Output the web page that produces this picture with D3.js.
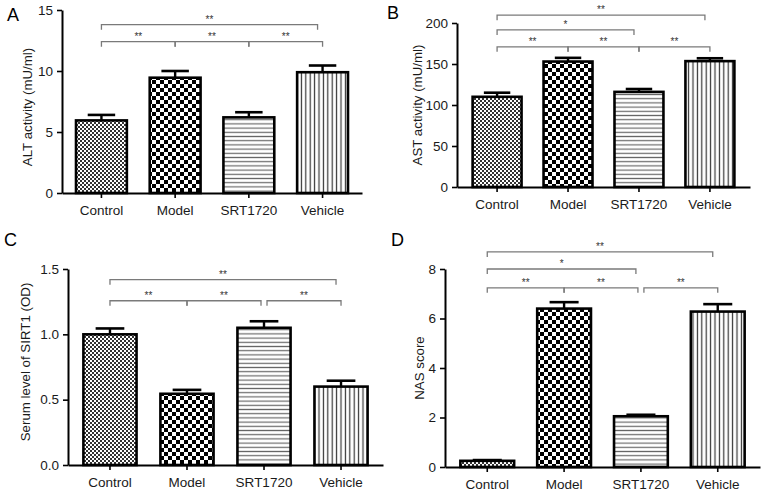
<!DOCTYPE html>
<html><head><meta charset="utf-8">
<script src="https://cdn.jsdelivr.net/npm/d3@7"></script>
<style>
body{margin:0;background:#fff}
svg{display:block}
text{font-family:"Liberation Sans",Arial,Helvetica,sans-serif}
</style>
</head><body>
<svg id="chart" width="765" height="493"></svg>
<script>
// ---------- data ----------
const categories = ["Control", "Model", "SRT1720", "Vehicle"];

const altValues = [5.95, 9.45, 6.2, 9.9];
const altErrors = [0.45, 0.55, 0.42, 0.55];
const altTicks = [0, 5, 10, 15];

const astValues = [110, 153, 116, 153.5];
const astErrors = [5, 4.5, 3.5, 3.5];
const astTicks = [0, 50, 100, 150, 200];

const sirtValues = [1.0, 0.545, 1.05, 0.6];
const sirtErrors = [0.045, 0.03, 0.05, 0.045];
const sirtTicks = [0, 0.5, 1.0, 1.5];

const nasValues = [0.25, 6.4, 2.05, 6.28];
const nasErrors = [0.03, 0.26, 0.06, 0.3];
const nasTicks = [0, 2, 4, 6, 8];

// significance brackets: [from, to, level (data units), label]
const altBrackets = [
  ["Control", "Vehicle", 13.8, "**"],
  ["Control", "Model", 12.4, "**"],
  ["Model", "SRT1720", 12.4, "**"],
  ["SRT1720", "Vehicle", 12.4, "**"]
];
const astBrackets = [
  ["Control", "Vehicle", 209.5, "**"],
  ["Control", "SRT1720", 191.5, "*"],
  ["Control", "Model", 171, "**"],
  ["Model", "SRT1720", 171, "**"],
  ["SRT1720", "Vehicle", 171, "**"]
];
const sirtBrackets = [
  ["Control", "Vehicle", 1.418, "**"],
  ["Control", "Model", 1.257, "**"],
  ["Model", "SRT1720", 1.257, "**"],
  ["SRT1720", "Vehicle", 1.257, "**"]
];
const nasBrackets = [
  ["Control", "Vehicle", 8.69, "**"],
  ["Control", "SRT1720", 8.0, "*"],
  ["Control", "Model", 7.24, "**"],
  ["Model", "SRT1720", 7.24, "**"],
  ["SRT1720", "Vehicle", 7.24, "**"]
];

const patterns = ["pFine", "pCheck", "pHLines", "pVLines"];

// ---------- layout ----------
const panels = [
  {letter:"A", lx:7, ly:21, title:"ALT activity (mU/ml)", tx:32, ty:107,
   x0:62, x1:362, yTop:10, yBot:193, pi:0.31, po:0.19,
   values:altValues, errors:altErrors, ticks:altTicks, fmt:d3.format("d"),
   brackets:altBrackets, split:false},
  {letter:"B", lx:387, ly:19, title:"AST activity (mU/ml)", tx:422, ty:105,
   x0:457, x1:750, yTop:23, yBot:187, pi:0.31, po:0.22,
   values:astValues, errors:astErrors, ticks:astTicks, fmt:d3.format("d"),
   brackets:astBrackets, split:false},
  {letter:"C", lx:4, ly:246, title:"Serum level of SIRT1 (OD)", tx:30, ty:362,
   x0:68, x1:383, yTop:269, yBot:465, pi:0.31, po:0.2,
   values:sirtValues, errors:sirtErrors, ticks:sirtTicks, fmt:d3.format(".1f"),
   brackets:sirtBrackets, split:true},
  {letter:"D", lx:391, ly:246, title:"NAS score", tx:424, ty:368,
   x0:445, x1:760, yTop:269, yBot:467, pi:0.3, po:0.2,
   values:nasValues, errors:nasErrors, ticks:nasTicks, fmt:d3.format("d"),
   brackets:nasBrackets, split:true}
];

const svg = d3.select("#chart");
const defs = svg.append("defs");

// patterns
function addPattern(id, w, h, draw){
  const p = defs.append("pattern").attr("id", id).attr("patternUnits","userSpaceOnUse")
    .attr("width", w).attr("height", h);
  p.append("rect").attr("width", w).attr("height", h).attr("fill", "#fff");
  draw(p);
}
addPattern("pFine", 4, 4, p => {
  p.append("rect").attr("x",0).attr("y",0).attr("width",2).attr("height",2).attr("fill","#333");
  p.append("rect").attr("x",2).attr("y",2).attr("width",2).attr("height",2).attr("fill","#333");
});
addPattern("pCheck", 8, 8, p => {
  p.append("rect").attr("x",0).attr("y",0).attr("width",4).attr("height",4).attr("fill","#000");
  p.append("rect").attr("x",4).attr("y",4).attr("width",4).attr("height",4).attr("fill","#000");
});
addPattern("pHLines", 4, 4.2, p => {
  p.append("rect").attr("x",0).attr("y",1.5).attr("width",4).attr("height",1.2).attr("fill","#666");
});
addPattern("pVLines", 4.4, 4, p => {
  p.append("rect").attr("x",1.6).attr("y",0).attr("width",1.2).attr("height",4).attr("fill","#333");
});

panels.forEach(P => {
  const g = svg.append("g");
  const x = d3.scaleBand().domain(categories).range([P.x0, P.x1])
    .paddingInner(P.pi).paddingOuter(P.po);
  const y = d3.scaleLinear().domain([0, P.ticks[P.ticks.length-1]]).range([P.yBot, P.yTop]);
  const bw = x.bandwidth();
  const cx = c => x(c) + bw/2;

  // bars
  g.selectAll("rect.bar").data(categories).join("rect").attr("class","bar")
    .attr("x", c => x(c)).attr("width", bw)
    .attr("y", (c,i) => y(P.values[i]))
    .attr("height", (c,i) => y(0) - y(P.values[i]))
    .attr("fill", (c,i) => `url(#${patterns[i]})`)
    .attr("stroke", "#000").attr("stroke-width", 2.6);

  // error bars (upper only)
  g.selectAll("line.ev").data(categories).join("line").attr("class","ev")
    .attr("x1", cx).attr("x2", cx)
    .attr("y1", (c,i) => y(P.values[i]))
    .attr("y2", (c,i) => y(P.values[i] + P.errors[i]))
    .attr("stroke","#000").attr("stroke-width",2.4);
  g.selectAll("line.ec").data(categories).join("line").attr("class","ec")
    .attr("x1", c => cx(c) - bw*0.27).attr("x2", c => cx(c) + bw*0.27)
    .attr("y1", (c,i) => y(P.values[i] + P.errors[i]))
    .attr("y2", (c,i) => y(P.values[i] + P.errors[i]))
    .attr("stroke","#000").attr("stroke-width",2.6);

  // axes
  const ya = g.append("g").attr("transform", `translate(${P.x0},0)`)
    .call(d3.axisLeft(y).tickValues(P.ticks).tickFormat(P.fmt).tickSize(5).tickSizeOuter(0).tickPadding(4));
  const xa = g.append("g").attr("transform", `translate(0,${P.yBot})`)
    .call(d3.axisBottom(x).tickSize(5).tickSizeOuter(0).tickPadding(7));
  [ya, xa].forEach(a => {
    a.select(".domain").attr("stroke","#000").attr("stroke-width",2);
    a.selectAll(".tick line").attr("stroke","#000").attr("stroke-width",1.6);
    a.selectAll(".tick text").attr("font-size","13.5px").attr("fill","#1a1a1a")
      .attr("font-family",'"Liberation Sans",Arial,sans-serif');
  });

  // y title
  g.append("text").attr("transform", `translate(${P.tx},${P.ty}) rotate(-90)`)
    .attr("text-anchor","middle").attr("font-size","13.3px").attr("fill","#1a1a1a").text(P.title);

  // panel letter
  g.append("text").attr("x", P.lx).attr("y", P.ly).attr("font-size","18px").attr("fill","#000").text(P.letter);

  // brackets
  const lowest = d3.min(P.brackets, b => b[2]);
  P.brackets.forEach(b => {
    let xa1 = cx(b[0]), xb1 = cx(b[1]);
    const yy = y(b[2]);
    if (b[2] !== lowest) xb1 -= 5;
    if (P.split && b[2] === lowest) {
      if (b[0] === "SRT1720") xa1 += 3;
      if (b[1] === "SRT1720") xb1 -= 3;
    }
    g.append("path")
      .attr("d", `M${xa1},${yy+5}V${yy}H${xb1}V${yy+5}`)
      .attr("fill","none").attr("stroke","#7a7a7a").attr("stroke-width",1.3);
    g.append("text").attr("x", (xa1+xb1)/2).attr("y", yy - 2)
      .attr("text-anchor","middle").attr("font-size","10px").attr("fill","#333").text(b[3]);
  });
});
</script>
</body></html>
